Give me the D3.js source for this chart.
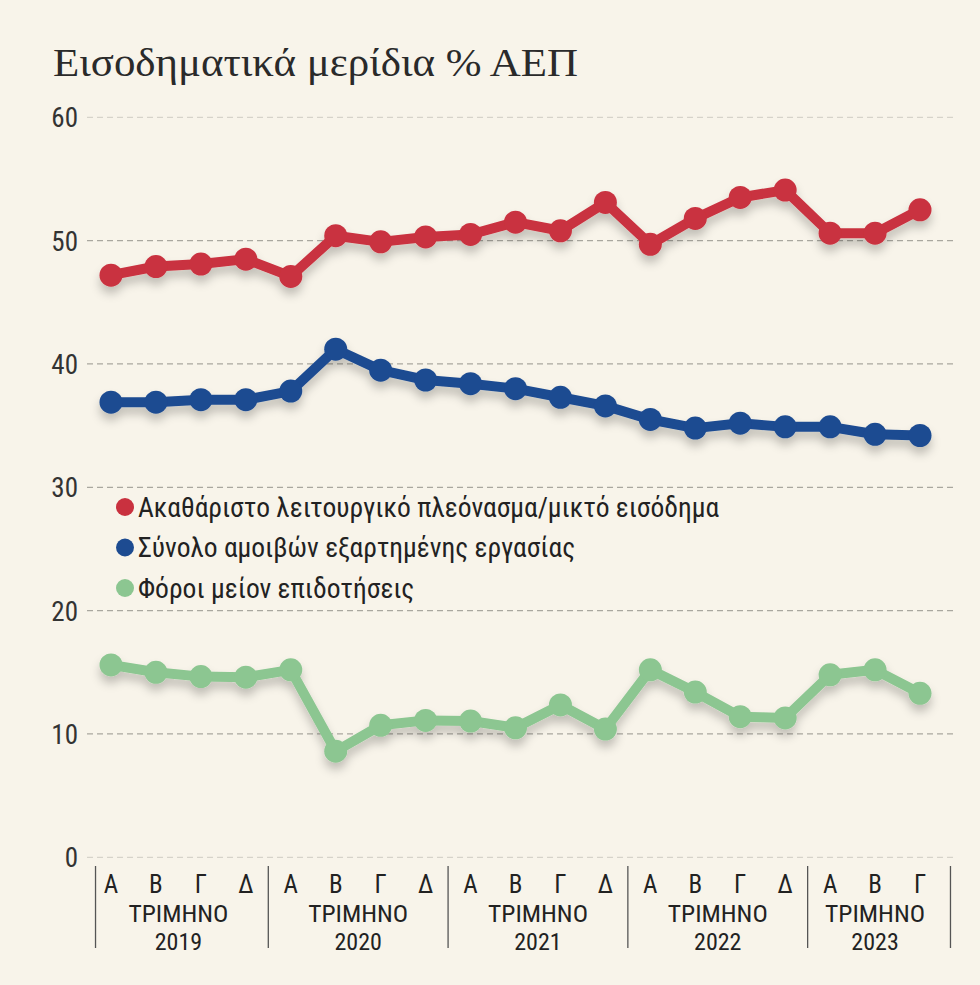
<!DOCTYPE html>
<html>
<head>
<meta charset="utf-8">
<script src="https://cdn.jsdelivr.net/npm/d3@7"></script>
<style>
  html, body { margin: 0; padding: 0; background: #f8f4ea; }
  svg { display: block; }
</style>
</head>
<body>
<div id="chart"></div>
<script>
// ---- data ----
const quarters = ["Α","Β","Γ","Δ","Α","Β","Γ","Δ","Α","Β","Γ","Δ","Α","Β","Γ","Δ","Α","Β","Γ"];
const years = ["2019","2020","2021","2022","2023"];
const quartersPerYear = [4,4,4,4,3];
const surplus = [47.2,47.9,48.1,48.5,47.1,50.4,49.9,50.3,50.5,51.5,50.8,53.1,49.7,51.8,53.5,54.1,50.6,50.6,52.5];
const compensation = [36.9,36.9,37.1,37.1,37.8,41.2,39.5,38.7,38.4,38.0,37.3,36.6,35.5,34.8,35.2,34.9,34.9,34.3,34.2];
const taxes = [15.6,15.0,14.65,14.6,15.2,8.6,10.7,11.1,11.05,10.5,12.35,10.4,15.2,13.4,11.4,11.3,14.8,15.2,13.3];
const yTicks = [0,10,20,30,40,50,60];
const seriesNames = ["Ακαθάριστο λειτουργικό πλεόνασμα/μικτό εισόδημα","Σύνολο αμοιβών εξαρτημένης εργασίας","Φόροι μείον επιδοτήσεις"];
const seriesColors = ["#c9313f","#1d4b91","#8cc691"];
const title = "Εισοδηματικά μερίδια % ΑΕΠ";
const periodLabel = "ΤΡΙΜΗΝΟ";

const W = 980, H = 985;
const condensed = "'Liberation Sans Narrow','Roboto Condensed','Arial Narrow','Roboto',sans-serif";

const svg = d3.select("#chart").append("svg").attr("width", W).attr("height", H);
svg.append("rect").attr("width", W).attr("height", H).attr("fill", "#f8f4ea");

const defs = svg.append("defs");
const f = defs.append("filter").attr("id","shadow").attr("x","-10%").attr("y","-30%").attr("width","120%").attr("height","160%");
f.append("feDropShadow").attr("dx",0).attr("dy",7).attr("stdDeviation",5).attr("flood-color","#000").attr("flood-opacity",0.22);

// Title
svg.append("text").attr("x", 53).attr("y", 76)
  .attr("font-family","'Liberation Serif','DejaVu Serif',serif")
  .attr("font-size", 40).attr("fill","#2a2a2a")
  .attr("textLength", 525).attr("lengthAdjust","spacingAndGlyphs")
  .text(title);

const y = d3.scaleLinear().domain([0,60]).range([857.3,117.3]);
const idx = d3.range(quarters.length);
const x = d3.scaleLinear().domain([0, quarters.length-1]).range([111, 920]);

// gridlines
const grid = svg.append("g");
grid.selectAll("line").data(yTicks).join("line")
  .attr("x1", 87).attr("x2", 953)
  .attr("y1", d => y(d)).attr("y2", d => y(d))
  .attr("stroke", d => (d === 0 || d === 60) ? "#d6d3ca" : "#a9a79f")
  .attr("stroke-width", 1.2)
  .attr("stroke-dasharray", "6,4");

// y axis labels via d3 axis
const yAxis = d3.axisLeft(y).tickValues(yTicks).tickSize(0).tickPadding(0);
const gy = svg.append("g").attr("transform","translate(78,0)").call(yAxis);
gy.select(".domain").remove();
gy.selectAll("text").attr("font-family", condensed).attr("font-size", 27).attr("fill","#333").attr("dy","0.35em");

// series
const series = [surplus, compensation, taxes];
const line = d3.line().x((d,i) => x(i)).y(d => y(d));
series.forEach((vals, si) => {
  const g = svg.append("g").attr("filter","url(#shadow)");
  g.append("path").datum(vals).attr("d", line)
    .attr("fill","none").attr("stroke", seriesColors[si])
    .attr("stroke-width", 10).attr("stroke-linejoin","round");
  g.selectAll("circle").data(vals).join("circle")
    .attr("cx", (d,i) => x(i)).attr("cy", d => y(d)).attr("r", 11.5)
    .attr("fill", seriesColors[si]);
});

// legend
const lg = svg.append("g");
seriesNames.forEach((n, i) => {
  const ly = 507 + i*40.5;
  lg.append("circle").attr("cx", 125).attr("cy", ly).attr("r", 9).attr("fill", seriesColors[i]);
  lg.append("text").attr("x", 138).attr("y", ly).attr("dy","0.36em")
    .attr("font-family", condensed).attr("font-size", 27.5).attr("fill","#222").text(n);
});

// x axis labels
const xa = svg.append("g");
xa.selectAll("text.q").data(idx).join("text").attr("class","q")
  .attr("x", i => x(i)).attr("y", 893)
  .attr("text-anchor","middle").attr("font-family", condensed).attr("font-size", 25).attr("fill","#222")
  .text(i => quarters[i]);

let start = 0;
const step = x(1) - x(0);
const bounds = [];
years.forEach((yr, k) => {
  const n = quartersPerYear[k];
  const cx = (x(start) + x(start + n - 1)) / 2;
  xa.append("text").attr("x", cx).attr("y", 922).attr("text-anchor","middle")
    .attr("font-family", condensed).attr("font-size", 24).attr("fill","#222")
    .attr("textLength", 100).attr("lengthAdjust","spacingAndGlyphs")
    .text(periodLabel);
  xa.append("text").attr("x", cx).attr("y", 950).attr("text-anchor","middle")
    .attr("font-family", condensed).attr("font-size", 24).attr("fill","#222").text(yr);
  if (k === 0) bounds.push(x(start) - step/2 + 7);
  start += n;
  bounds.push(k === years.length - 1 ? x(start - 1) + step/2 + 8 : x(start) - step/2);
});
xa.selectAll("line").data(bounds).join("line")
  .attr("x1", d => d).attr("x2", d => d).attr("y1", 866).attr("y2", 948)
  .attr("stroke", "#555").attr("stroke-width", 1.3);
</script>
</body>
</html>
